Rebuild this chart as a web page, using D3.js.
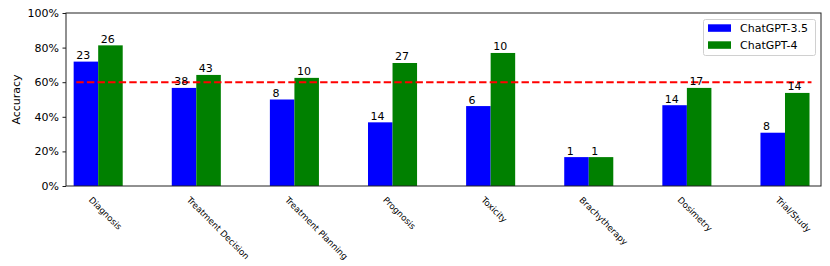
<!DOCTYPE html>
<html>
<head>
<meta charset="utf-8">
<script src="https://cdn.jsdelivr.net/npm/d3@7"></script>
<style>
  html, body { margin: 0; padding: 0; background: #fff; }
  svg { display: block; font-family: "DejaVu Sans", sans-serif; }
</style>
</head>
<body>
<svg id="chart" width="830" height="266"></svg>
<script>
const categories = ["Diagnosis", "Treatment Decision", "Treatment Planning", "Prognosis", "Toxicity", "Brachytherapy", "Dosimetry", "Trial/Study"];
const seriesNames = ["ChatGPT-3.5", "ChatGPT-4"];
const accuracy35 = [0.719, 0.567, 0.500, 0.368, 0.462, 0.167, 0.467, 0.308];
const accuracy4  = [0.813, 0.642, 0.625, 0.711, 0.769, 0.167, 0.567, 0.538];
const counts35 = [23, 38, 8, 14, 6, 1, 14, 8];
const counts4  = [26, 43, 10, 27, 10, 1, 17, 14];
const yTicks = [0, 0.2, 0.4, 0.6, 0.8, 1.0];
const threshold = 0.6;
const colors = ["#0000ff", "#008000"];

(function () {
const svg = d3.select("#chart");
const pL = 66, pR = 821, pT = 13, pB = 186;
const barW = 0.25;

const x = d3.scaleLinear().domain([-0.328, 7.367]).range([pL, pR]);
const y = d3.scaleLinear().domain([0, 1]).range([pB, pT]);

const series = [
  { name: seriesNames[0], values: accuracy35, counts: counts35, offset: -barW, color: colors[0] },
  { name: seriesNames[1], values: accuracy4, counts: counts4, offset: 0, color: colors[1] }
];

// bars
series.forEach(s => {
  const g = svg.append("g");
  g.selectAll("rect").data(s.values).enter().append("rect")
    .attr("x", (d, i) => x(i + s.offset))
    .attr("y", d => y(d))
    .attr("width", x(barW) - x(0))
    .attr("height", d => y(0) - y(d))
    .attr("fill", s.color);
});

// threshold line
svg.append("line")
  .attr("x1", x(-0.223)).attr("x2", x(7.27))
  .attr("y1", y(threshold)).attr("y2", y(threshold))
  .attr("stroke", "#ff0000").attr("stroke-width", 2)
  .attr("stroke-dasharray", "7.4,3.2");

// bar labels
series.forEach(s => {
  svg.append("g").selectAll("text").data(s.values).enter().append("text")
    .attr("x", (d, i) => x(i + s.offset) + 2.5)
    .attr("y", d => y(d) - 2.5)
    .attr("font-size", "11px")
    .attr("fill", "#000")
    .text((d, i) => s.counts[i]);
});

// y axis
const yAxis = d3.axisLeft(y).tickValues(yTicks).tickFormat(d3.format(".0%")).tickSize(3.5).tickPadding(3.5);
const yg = svg.append("g").attr("transform", `translate(${pL},0)`).call(yAxis);
yg.select(".domain").remove();
yg.selectAll("text").attr("font-size", "11px").attr("font-family", "DejaVu Sans").attr("fill", "#000");
yg.selectAll("line").attr("stroke", "#000").attr("stroke-width", 0.9);

// frame
svg.append("rect")
  .attr("x", pL).attr("y", pT).attr("width", pR - pL).attr("height", pB - pT)
  .attr("fill", "none").attr("stroke", "#222").attr("stroke-width", 1);

// x tick labels
svg.append("g").selectAll("text").data(categories).enter().append("text")
  .attr("transform", (d, i) => `translate(${x(i) - 5.5},${pB + 10}) rotate(45)`)
  .attr("dy", "0.72em")
  .attr("font-size", "8.7px")
  .attr("fill", "#000")
  .text(d => d);

// y label
svg.append("text")
  .attr("transform", `translate(19.5,${(pT + pB) / 2}) rotate(-90)`)
  .attr("text-anchor", "middle")
  .attr("font-size", "11px")
  .text("Accuracy");

// legend
const lg = svg.append("g");
lg.append("rect").attr("x", 703.5).attr("y", 19.5).attr("width", 112).attr("height", 36)
  .attr("rx", 2).attr("fill", "#fff").attr("fill-opacity", 0.8).attr("stroke", "#d0d0d0").attr("stroke-width", 1);
series.forEach((s, k) => {
  lg.append("rect").attr("x", 708).attr("y", 24.3 + k * 17).attr("width", 23).attr("height", 7.5).attr("fill", s.color);
  lg.append("text").attr("x", 740).attr("y", 32.2 + k * 17).attr("font-size", "11px").text(s.name);
});
})();
</script>
</body>
</html>
